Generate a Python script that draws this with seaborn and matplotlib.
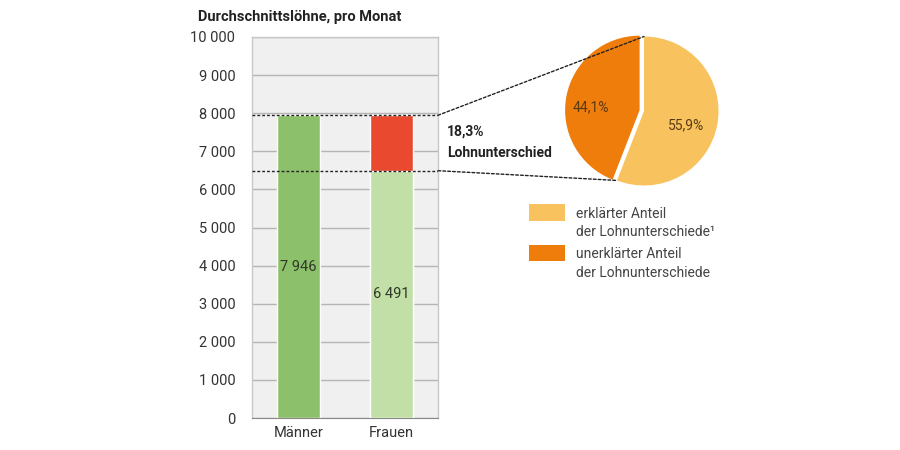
import pandas as pd
import seaborn as sns
import matplotlib
matplotlib.use('Agg')
import matplotlib.pyplot as plt
from matplotlib.patches import ConnectionPatch, Patch, Rectangle
from matplotlib.legend_handler import HandlerPatch
from matplotlib.ticker import FuncFormatter
import numpy as np

# data
groups = ['Männer', 'Frauen']
wages = [7946, 6491]
pie_labels = ['erklärter Anteil\nder Lohnunterschiede¹', 'unerklärter Anteil\nder Lohnunterschiede']
pie_shares = [55.9, 44.1]

c_men = '#8dc06a'
c_women = '#c3dfa8'
c_gap = '#e8492f'
c_pie = ['#f8c35f', '#ee7d0c']

sns.set_style('white')
plt.rcParams['font.family'] = ['Roboto', 'DejaVu Sans']
plt.rcParams['text.color'] = '#333333'

fig = plt.figure(figsize=(9, 4.5), dpi=100)
ax = fig.add_axes([252 / 900, 32 / 450, 186 / 900, 381 / 450])
ax.set_facecolor('#f0f0f0')

# bars: full height of men, gap on women
df = pd.DataFrame({'group': groups, 'wage': [wages[0], wages[0]]})
sns.barplot(data=df, x='group', y='wage', hue='group', palette=[c_men, c_gap],
            width=0.46, legend=False, ax=ax, zorder=2, saturation=1)
sns.barplot(data=pd.DataFrame({'group': groups, 'wage': [np.nan, wages[1]]}),
            x='group', y='wage', color=c_women, width=0.46, ax=ax, zorder=3, saturation=1)

for i, w in enumerate(wages):
    ax.text(i, w / 2, f'{w:,}'.replace(',', ' '), ha='center', va='center',
            fontsize=10.5, color='#2f3a28', zorder=5)

ax.set_ylim(0, 10000)
ax.set_xlim(-0.5, 1.5)
ax.set_yticks(range(0, 10001, 1000))
ax.yaxis.set_major_formatter(FuncFormatter(lambda v, p: f'{int(v):,}'.replace(',', ' ')))
ax.grid(axis='y', color='#b5b5b5', linewidth=1, zorder=0)
ax.set_axisbelow(True)
ax.tick_params(axis='y', length=4, width=1, color='#b5b5b5', labelsize=10.5, pad=8, labelcolor='#333333')
ax.tick_params(axis='x', length=0, labelsize=10.5, pad=6, labelcolor='#333333')
ax.set_xlabel('')
ax.set_ylabel('')
for s in ['left', 'right', 'top']:
    ax.spines[s].set_color('#c8c8c8')
    ax.spines[s].set_linewidth(1)
ax.spines['bottom'].set_color('#888888')

# dotted reference lines
for w in wages:
    ax.axhline(w, color='#222222', linestyle=(0, (2, 1.5)), linewidth=1, zorder=4)

gap = (wages[0] - wages[1]) / wages[0] * 100
ax.text(1.05, 0.752, f'{gap:.1f}%'.replace('.', ','), transform=ax.transAxes,
        fontsize=10, fontweight='bold', color='#222222', va='center')
ax.text(1.05, 0.695, 'Lohnunterschied', transform=ax.transAxes,
        fontsize=10, fontweight='bold', color='#222222', va='center')

fig.text(198 / 900, 1 - 17 / 450, 'Durchschnittslöhne, pro Monat', fontsize=10.5,
         fontweight='bold', color='#222222', va='center')

# pie
pax = fig.add_axes([568 / 900, 1 - 187 / 450, 152 / 900, 152 / 450])
wedges, texts = pax.pie(pie_shares, colors=c_pie, startangle=90, counterclock=False,
                        explode=[0, 0.06], radius=1.0,
                        wedgeprops=dict(linewidth=0))
# percentage labels inside the wedges
for wdg, share, dist in zip(wedges, pie_shares, [0.58, 0.66]):
    mid = np.deg2rad((wdg.theta1 + wdg.theta2) / 2)
    cx, cy = wdg.center
    pax.text(cx + dist * np.cos(mid), cy + dist * np.sin(mid) - 0.08,
             f'{share:.1f}%'.replace('.', ','), ha='center', va='center',
             fontsize=10, color='#5a3a10')
pax.set_aspect('equal')
pax.set_xlim(-1.02, 1.02)
pax.set_ylim(-1.02, 1.02)

ang = np.deg2rad(90 - 360 * pie_shares[0] / 100)
for w, pt in [(wages[0], (0, 1.0)), (wages[1], (np.cos(ang), np.sin(ang)))]:
    con = ConnectionPatch(xyA=(1.5, w), coordsA=ax.transData, xyB=pt, coordsB=pax.transData,
                          color='#222222', linestyle=(0, (2, 1.5)), linewidth=1)
    fig.add_artist(con)


# legend swatch aligned with the first text line
def top_patch(legend, orig_handle, xdescent, ydescent, width, height, fontsize):
    h = fontsize * 1.2
    return Rectangle((-xdescent, -ydescent + height - h + 4.6), width, h)


handles = [Patch(facecolor=c, edgecolor='none') for c in c_pie]
leg = fig.legend(handles, pie_labels, loc='upper left', bbox_to_anchor=(516 / 900, 1 - 194 / 450),
                 frameon=False, fontsize=10, handlelength=2.6, handleheight=2.6,
                 labelspacing=0.53, handletextpad=0.85, labelcolor='#444444',
                 handler_map={Patch: HandlerPatch(patch_func=top_patch)})
for t in leg.get_texts():
    t.set_linespacing(1.45)

fig.savefig('out.png', dpi=100)
